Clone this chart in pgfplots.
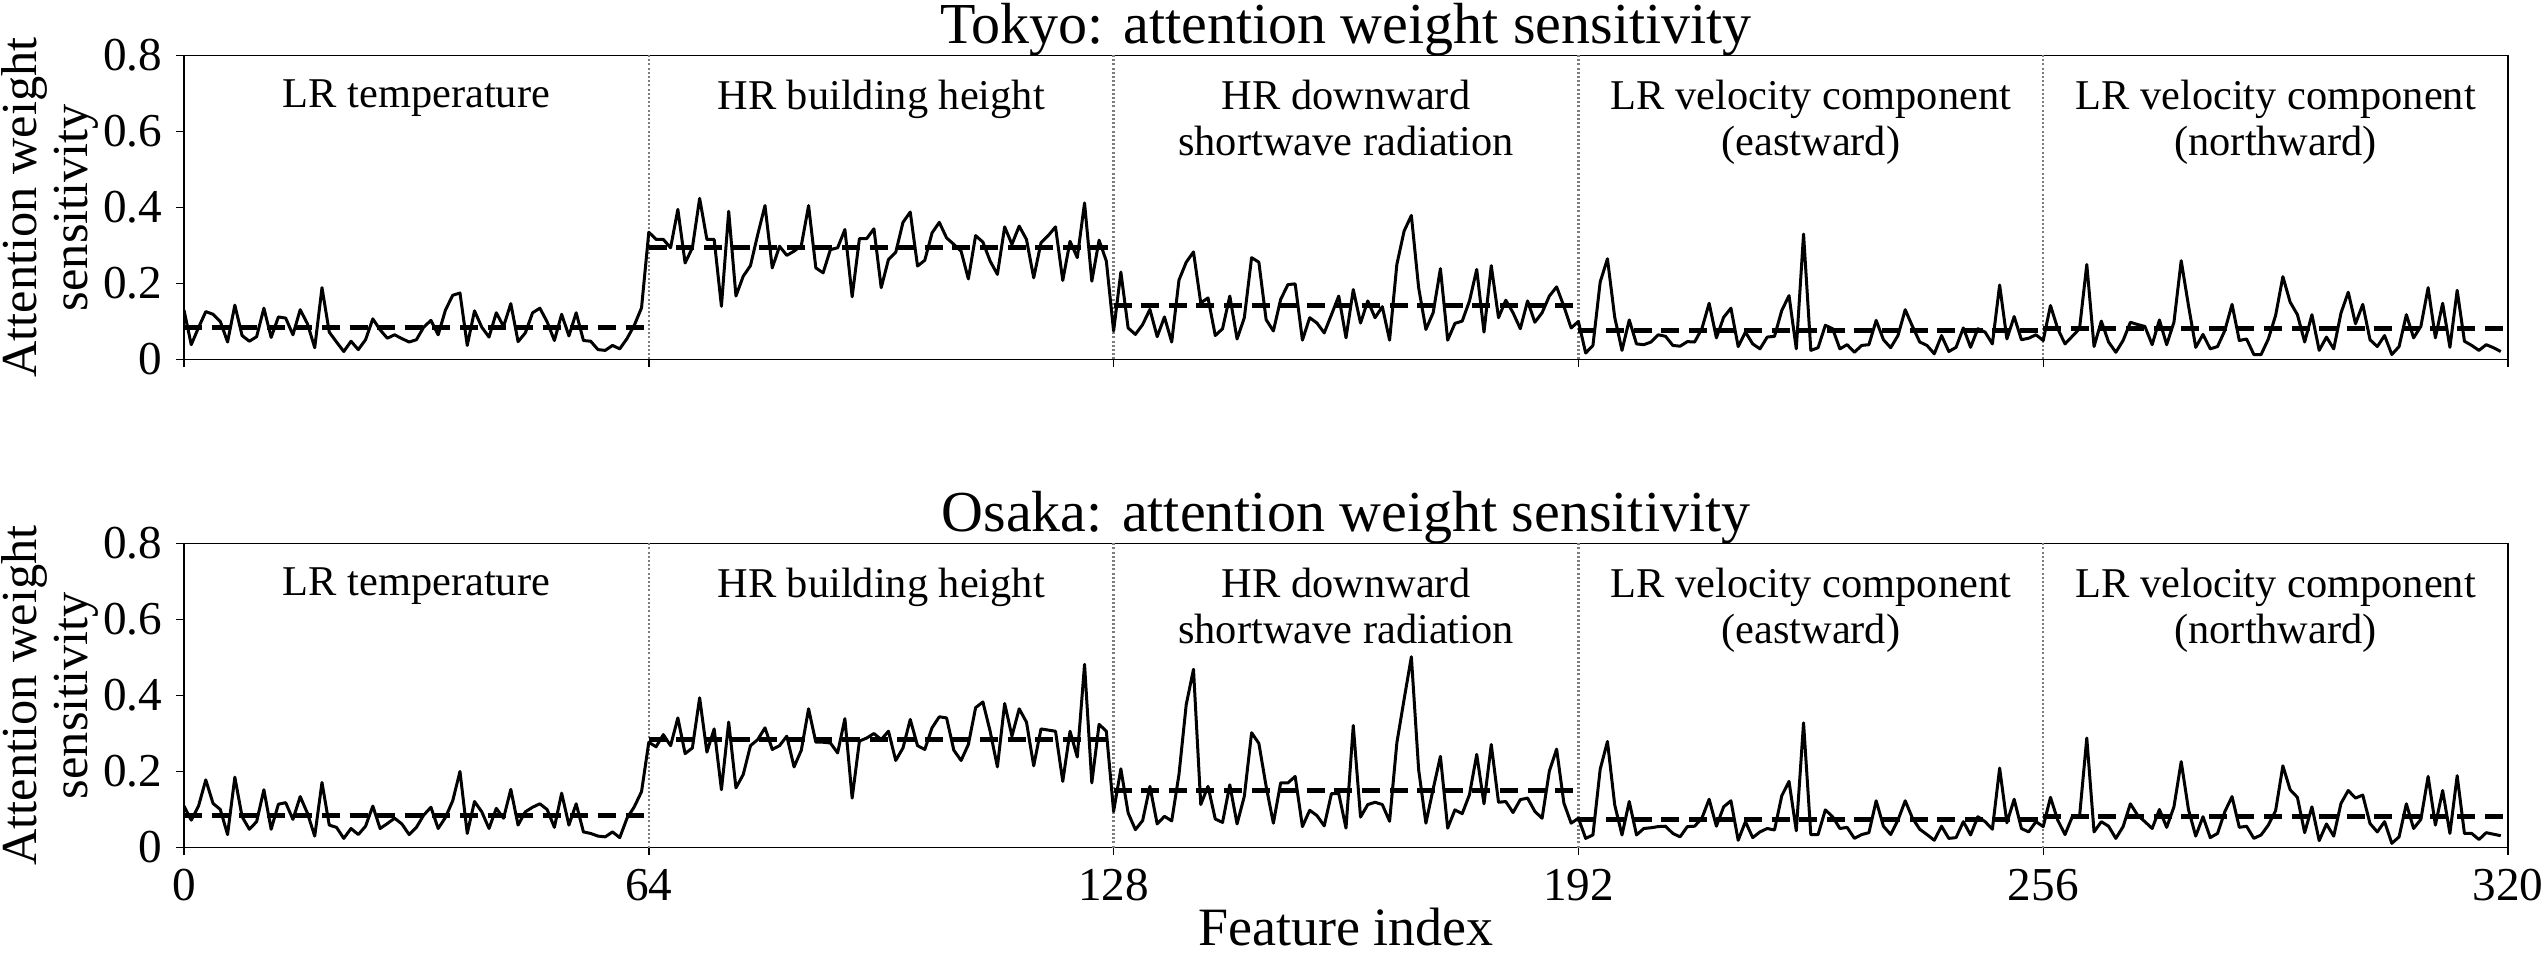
\documentclass[border=0pt]{standalone}
\usepackage{fontspec}
\setmainfont{Liberation Serif}
\usepackage{pgfplots}
\pgfplotsset{compat=1.18}
\definecolor{sepgray}{RGB}{125,125,125}
\tikzset{seg/.style={anchor=north, inner sep=0pt, align=center, font=\fontsize{10.6}{11.4}\selectfont}}
\pgfplotsset{
  panel/.style={
    width=581pt, height=76pt, scale only axis,
    xmin=0, xmax=320, ymin=0, ymax=0.8,
    xtick={0,64,128,192,256,320},
    ytick={0,0.2,0.4,0.6,0.8},
    yticklabels={0,0.2,0.4,0.6,0.8},
    xtick pos=bottom, ytick pos=left,
    tick align=outside,
    major tick length=1.9pt,
    every tick/.style={black, line width=0.35pt},
    axis line style={line width=0.35pt},
    tick label style={font=\fontsize{11.8}{13}\selectfont},
    /pgf/number format/assume math mode=true,
    every axis title shift=0pt,
    every axis title/.style={at={(rel axis cs:0.5,1)}, anchor=base, yshift=3pt,
      font=\fontsize{14.5}{16}\selectfont},
    ylabel={Attention weight\\sensitivity},
    every axis y label/.style={at={(rel axis cs:-0.03657,0.5)}, rotate=90, anchor=south, inner sep=0pt,
      align=center, font=\fontsize{12.6}{12.6}\selectfont},
  },
  dataline/.style={black, line width=0.75pt, line join=round},
  meanline/.style={black, line width=1.25pt, dash pattern=on 4.5pt off 2.4pt},
  sepline/.style={sepgray, line width=0.6pt, dash pattern=on 0.5pt off 0.55pt},
}
\newcommand{\seplines}{%
  \addplot[sepline] coordinates {(64,0) (64,0.8)};
  \addplot[sepline] coordinates {(128,0) (128,0.8)};
  \addplot[sepline] coordinates {(192,0) (192,0.8)};
  \addplot[sepline] coordinates {(256,0) (256,0.8)};
}
\newcommand{\seglabels}{%
  \node[seg] at (axis cs:32,0.737) {LR temperature};
  \node[seg] at (axis cs:96,0.737) {HR building height};
  \node[seg] at (axis cs:160,0.737) {HR downward\\shortwave radiation};
  \node[seg] at (axis cs:224,0.737) {LR velocity component\\(eastward)};
  \node[seg] at (axis cs:288,0.737) {LR velocity component\\(northward)};
}
\begin{document}
\begin{tikzpicture}
\begin{axis}[panel, at={(0,122pt)}, anchor=south west, xticklabels={},
  title={Tokyo: attention weight sensitivity}]
\seplines
\addplot[dataline] coordinates {
(0,0.130)(1,0.039)(2,0.084)(3,0.126)(4,0.119)(5,0.100)(6,0.046)(7,0.143)(8,0.063)(9,0.048)
(10,0.060)(11,0.135)(12,0.058)(13,0.112)(14,0.109)(15,0.065)(16,0.131)(17,0.094)(18,0.031)(19,0.189)
(20,0.072)(21,0.046)(22,0.021)(23,0.048)(24,0.026)(25,0.052)(26,0.107)(27,0.078)(28,0.056)(29,0.065)
(30,0.055)(31,0.046)(32,0.052)(33,0.085)(34,0.103)(35,0.065)(36,0.130)(37,0.169)(38,0.175)(39,0.037)
(40,0.128)(41,0.085)(42,0.059)(43,0.123)(44,0.087)(45,0.147)(46,0.047)(47,0.070)(48,0.123)(49,0.135)
(50,0.099)(51,0.050)(52,0.119)(53,0.062)(54,0.123)(55,0.050)(56,0.048)(57,0.026)(58,0.024)(59,0.037)
(60,0.028)(61,0.055)(62,0.090)(63,0.136)
(64,0.335)(65,0.316)(66,0.316)(67,0.294)(68,0.395)(69,0.254)(70,0.294)(71,0.424)(72,0.316)(73,0.316)
(74,0.140)(75,0.390)(76,0.167)(77,0.219)(78,0.247)(79,0.329)(80,0.405)(81,0.241)(82,0.298)(83,0.274)
(84,0.285)(85,0.300)(86,0.405)(87,0.241)(88,0.228)(89,0.289)(90,0.294)(91,0.342)(92,0.165)(93,0.318)
(94,0.318)(95,0.344)(96,0.189)(97,0.263)(98,0.282)(99,0.361)(100,0.388)(101,0.246)(102,0.261)(103,0.333)
(104,0.361)(105,0.320)(106,0.303)(107,0.285)(108,0.212)(109,0.326)(110,0.309)(111,0.259)(112,0.224)(113,0.349)
(114,0.303)(115,0.351)(116,0.316)(117,0.215)(118,0.307)(119,0.326)(120,0.349)(121,0.208)(122,0.311)(123,0.268)
(124,0.412)(125,0.206)(126,0.314)(127,0.259)
(128,0.075)(129,0.230)(130,0.083)(131,0.066)(132,0.092)(133,0.132)(134,0.060)(135,0.112)(136,0.046)(137,0.209)
(138,0.256)(139,0.283)(140,0.149)(141,0.162)(142,0.063)(143,0.081)(144,0.167)(145,0.054)(146,0.110)(147,0.268)
(148,0.256)(149,0.105)(150,0.075)(151,0.158)(152,0.197)(153,0.199)(154,0.051)(155,0.110)(156,0.096)(157,0.070)
(158,0.118)(159,0.167)(160,0.057)(161,0.184)(162,0.096)(163,0.154)(164,0.110)(165,0.139)(166,0.051)(167,0.250)
(168,0.338)(169,0.379)(170,0.189)(171,0.079)(172,0.123)(173,0.239)(174,0.051)(175,0.095)(176,0.101)(177,0.154)
(178,0.237)(179,0.072)(180,0.247)(181,0.110)(182,0.156)(183,0.123)(184,0.081)(185,0.154)(186,0.098)(187,0.123)
(188,0.167)(189,0.191)(190,0.140)(191,0.083)
(192,0.100)(193,0.017)(194,0.037)(195,0.204)(196,0.265)(197,0.111)(198,0.024)(199,0.104)(200,0.041)(201,0.039)
(202,0.046)(203,0.065)(204,0.061)(205,0.037)(206,0.035)(207,0.047)(208,0.046)(209,0.081)(210,0.148)(211,0.057)
(212,0.111)(213,0.135)(214,0.034)(215,0.072)(216,0.041)(217,0.028)(218,0.059)(219,0.061)(220,0.129)(221,0.168)
(222,0.028)(223,0.330)(224,0.024)(225,0.031)(226,0.090)(227,0.081)(228,0.028)(229,0.039)(230,0.019)(231,0.037)
(232,0.039)(233,0.103)(234,0.052)(235,0.031)(236,0.063)(237,0.131)(238,0.087)(239,0.046)(240,0.037)(241,0.015)
(242,0.063)(243,0.021)(244,0.032)(245,0.083)(246,0.032)(247,0.081)(248,0.072)(249,0.041)(250,0.196)(251,0.054)
(252,0.113)(253,0.052)(254,0.056)(255,0.065)
(256,0.050)(257,0.142)(258,0.081)(259,0.041)(260,0.061)(261,0.081)(262,0.250)(263,0.034)(264,0.101)(265,0.046)
(266,0.019)(267,0.050)(268,0.098)(269,0.092)(270,0.087)(271,0.039)(272,0.104)(273,0.039)(274,0.098)(275,0.260)
(276,0.142)(277,0.032)(278,0.066)(279,0.028)(280,0.034)(281,0.076)(282,0.145)(283,0.050)(284,0.054)(285,0.013)
(286,0.013)(287,0.054)(288,0.116)(289,0.218)(290,0.151)(291,0.118)(292,0.046)(293,0.118)(294,0.024)(295,0.059)
(296,0.028)(297,0.122)(298,0.177)(299,0.094)(300,0.145)(301,0.052)(302,0.034)(303,0.063)(304,0.013)(305,0.034)
(306,0.118)(307,0.057)(308,0.087)(309,0.189)(310,0.057)(311,0.148)(312,0.032)(313,0.182)(314,0.048)(315,0.037)
(316,0.024)(317,0.039)(318,0.031)(319,0.021)
};
\addplot[meanline] coordinates {(0,0.085) (63.6,0.085)};
\addplot[meanline] coordinates {(64,0.296) (127.6,0.296)};
\addplot[meanline] coordinates {(128,0.142) (191.6,0.142)};
\addplot[meanline] coordinates {(192,0.075) (255.6,0.075)};
\addplot[meanline] coordinates {(256,0.081) (319.6,0.081)};
\seglabels
\end{axis}
\begin{axis}[panel, at={(0,0)}, anchor=south west,
  title={Osaka: attention weight sensitivity},
  xlabel={Feature index},
  every axis x label/.style={at={(rel axis cs:0.5,-0.195)}, anchor=north, inner sep=0pt,
    font=\fontsize{13.5}{15}\selectfont}]
\seplines
\addplot[dataline] coordinates {
(0,0.109)(1,0.072)(2,0.109)(3,0.178)(4,0.116)(5,0.100)(6,0.034)(7,0.185)(8,0.081)(9,0.048)
(10,0.068)(11,0.152)(12,0.048)(13,0.114)(14,0.118)(15,0.074)(16,0.134)(17,0.090)(18,0.030)(19,0.171)
(20,0.059)(21,0.053)(22,0.024)(23,0.050)(24,0.034)(25,0.056)(26,0.109)(27,0.050)(28,0.063)(29,0.077)
(30,0.062)(31,0.034)(32,0.053)(33,0.085)(34,0.106)(35,0.050)(36,0.079)(37,0.123)(38,0.200)(39,0.037)
(40,0.121)(41,0.094)(42,0.050)(43,0.103)(44,0.077)(45,0.153)(46,0.059)(47,0.094)(48,0.106)(49,0.115)
(50,0.100)(51,0.053)(52,0.143)(53,0.059)(54,0.115)(55,0.041)(56,0.037)(57,0.030)(58,0.028)(59,0.041)
(60,0.026)(61,0.077)(62,0.107)(63,0.147)
(64,0.277)(65,0.265)(66,0.297)(67,0.268)(68,0.341)(69,0.247)(70,0.262)(71,0.394)(72,0.251)(73,0.312)
(74,0.152)(75,0.330)(76,0.157)(77,0.192)(78,0.268)(79,0.284)(80,0.315)(81,0.258)(82,0.268)(83,0.293)
(84,0.212)(85,0.256)(86,0.365)(87,0.277)(88,0.277)(89,0.275)(90,0.249)(91,0.339)(92,0.130)(93,0.280)
(94,0.288)(95,0.300)(96,0.284)(97,0.306)(98,0.229)(99,0.262)(100,0.337)(101,0.268)(102,0.258)(103,0.315)
(104,0.344)(105,0.341)(106,0.256)(107,0.229)(108,0.271)(109,0.368)(110,0.383)(111,0.306)(112,0.212)(113,0.379)
(114,0.293)(115,0.365)(116,0.330)(117,0.215)(118,0.312)(119,0.309)(120,0.306)(121,0.174)(122,0.306)(123,0.238)
(124,0.482)(125,0.170)(126,0.324)(127,0.306)
(128,0.095)(129,0.207)(130,0.091)(131,0.047)(132,0.071)(133,0.161)(134,0.062)(135,0.082)(136,0.070)(137,0.192)
(138,0.376)(139,0.469)(140,0.113)(141,0.161)(142,0.075)(143,0.066)(144,0.165)(145,0.062)(146,0.135)(147,0.302)
(148,0.274)(149,0.161)(150,0.064)(151,0.170)(152,0.170)(153,0.187)(154,0.055)(155,0.098)(156,0.084)(157,0.057)
(158,0.142)(159,0.142)(160,0.051)(161,0.321)(162,0.080)(163,0.113)(164,0.119)(165,0.113)(166,0.069)(167,0.275)
(168,0.390)(169,0.502)(170,0.205)(171,0.064)(172,0.154)(173,0.240)(174,0.051)(175,0.099)(176,0.089)(177,0.139)
(178,0.245)(179,0.115)(180,0.271)(181,0.119)(182,0.121)(183,0.092)(184,0.126)(185,0.130)(186,0.095)(187,0.077)
(188,0.201)(189,0.259)(190,0.117)(191,0.064)
(192,0.077)(193,0.024)(194,0.033)(195,0.206)(196,0.279)(197,0.112)(198,0.033)(199,0.121)(200,0.033)(201,0.050)
(202,0.052)(203,0.055)(204,0.056)(205,0.037)(206,0.028)(207,0.055)(208,0.056)(209,0.077)(210,0.127)(211,0.056)
(212,0.107)(213,0.123)(214,0.019)(215,0.068)(216,0.026)(217,0.041)(218,0.050)(219,0.046)(220,0.136)(221,0.174)
(222,0.044)(223,0.328)(224,0.034)(225,0.034)(226,0.099)(227,0.081)(228,0.050)(229,0.053)(230,0.024)(231,0.034)
(232,0.039)(233,0.123)(234,0.056)(235,0.034)(236,0.072)(237,0.123)(238,0.077)(239,0.048)(240,0.034)(241,0.019)
(242,0.056)(243,0.024)(244,0.026)(245,0.068)(246,0.033)(247,0.081)(248,0.068)(249,0.048)(250,0.209)(251,0.065)
(252,0.127)(253,0.050)(254,0.041)(255,0.068)
(256,0.055)(257,0.132)(258,0.072)(259,0.034)(260,0.081)(261,0.081)(262,0.288)(263,0.041)(264,0.068)(265,0.056)
(266,0.024)(267,0.055)(268,0.115)(269,0.085)(270,0.068)(271,0.050)(272,0.100)(273,0.053)(274,0.107)(275,0.226)
(276,0.100)(277,0.030)(278,0.081)(279,0.026)(280,0.037)(281,0.094)(282,0.134)(283,0.053)(284,0.056)(285,0.024)
(286,0.033)(287,0.059)(288,0.097)(289,0.215)(290,0.152)(291,0.132)(292,0.039)(293,0.107)(294,0.018)(295,0.062)
(296,0.030)(297,0.116)(298,0.150)(299,0.130)(300,0.138)(301,0.063)(302,0.041)(303,0.068)(304,0.011)(305,0.028)
(306,0.115)(307,0.050)(308,0.074)(309,0.187)(310,0.059)(311,0.150)(312,0.037)(313,0.189)(314,0.037)(315,0.037)
(316,0.021)(317,0.039)(318,0.035)(319,0.031)
};
\addplot[meanline] coordinates {(0,0.084) (63.6,0.084)};
\addplot[meanline] coordinates {(64,0.284) (127.6,0.284)};
\addplot[meanline] coordinates {(128,0.150) (191.6,0.150)};
\addplot[meanline] coordinates {(192,0.074) (255.6,0.074)};
\addplot[meanline] coordinates {(256,0.081) (319.6,0.081)};
\seglabels
\end{axis}
\pgfresetboundingbox
\path[use as bounding box] (-46pt,-26.125pt) rectangle (590.25pt,211.875pt);
\end{tikzpicture}
\end{document}
